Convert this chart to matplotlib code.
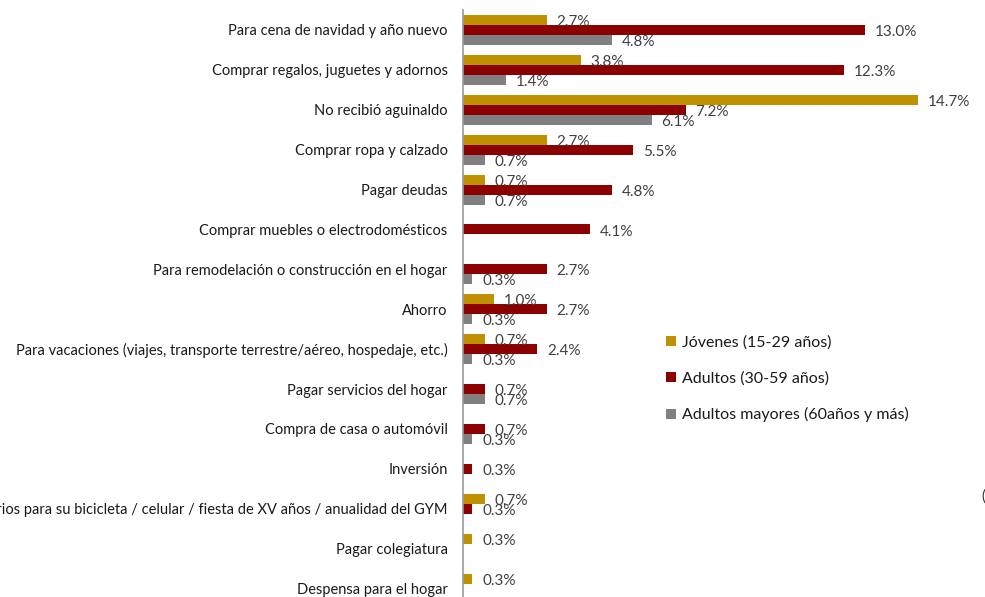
import matplotlib
matplotlib.use("Agg")
import matplotlib.pyplot as plt
import numpy as np

# ── Data (percent) ────────────────────────────────────────────────────────────
categories = [
    "Para cena de navidad y año nuevo",
    "Comprar regalos, juguetes y adornos",
    "No recibió aguinaldo",
    "Comprar ropa y calzado",
    "Pagar deudas",
    "Comprar muebles o electrodomésticos",
    "Para remodelación o construcción en el hogar",
    "Ahorro",
    "Para vacaciones (viajes, transporte terrestre/aéreo, hospedaje, etc.)",
    "Pagar servicios del hogar",
    "Compra de casa o automóvil",
    "Inversión",
    "Accesorios para su bicicleta / celular / fiesta de XV años / anualidad del GYM",
    "Pagar colegiatura",
    "Despensa para el hogar",
]
jovenes = [2.7, 3.8, 14.7, 2.7, 0.7, 0.0, 0.0, 1.0, 0.7, 0.0, 0.0, 0.0, 0.7, 0.3, 0.3]
adultos = [13.0, 12.3, 7.2, 5.5, 4.8, 4.1, 2.7, 2.7, 2.4, 0.7, 0.7, 0.3, 0.3, 0.0, 0.0]
mayores = [4.8, 1.4, 6.1, 0.7, 0.7, 0.0, 0.3, 0.3, 0.3, 0.7, 0.3, 0.0, 0.0, 0.0, 0.0]
series_names = ["Jóvenes (15-29 años)", "Adultos (30-59 años)", "Adultos mayores (60años y más)"]

colors = ["#BF9000", "#8B0000", "#808080"]
bar_h = 0.25
y = np.arange(len(categories))

plt.rcParams["font.family"] = ["Lato", "DejaVu Sans"]

fig = plt.figure(figsize=(9.85, 5.97), dpi=100)
ax = fig.add_axes([463 / 985, 0.0, 1 - 463 / 985, 587 / 597])

handles = []
for k, (vals, color, name) in enumerate(zip([jovenes, adultos, mayores], colors, series_names)):
    offs = (k - 1) * bar_h
    bars = ax.barh(y + offs, vals, height=bar_h, color=color, label=name)
    handles.append(bars)
    # value labels, skipped where there's no bar
    for b, v in zip(bars, vals):
        if v > 0:
            ax.annotate(f"{v:.1f}%", (v, b.get_y() + bar_h / 2),
                        xytext=(7, -1.5), textcoords="offset points",
                        ha="left", va="center", fontsize=11, color="#404040")

ax.set_xlim(0, (985 - 463) / 30.95)
ax.set_ylim((597 - 30) / 39.9, -0.5)
ax.set_yticks(y)
ax.set_yticklabels(categories, fontsize=10.5, color="#1a1a1a")
ax.tick_params(axis="y", length=0, pad=11)
ax.set_xticks([])
for s in ["top", "right", "bottom"]:
    ax.spines[s].set_visible(False)
ax.spines["left"].set_color("#999999")
ax.spines["left"].set_linewidth(1.2)
ax.set_facecolor("none")

ax.legend(handles=handles, loc="upper left", bbox_to_anchor=(0.362, 0.47),
          frameon=False, fontsize=11.5, handlelength=0.6, handleheight=0.6,
          handletextpad=0.4, labelspacing=1.35, labelcolor="#1a1a1a")

# partial text cut off at the right edge of the screenshot
fig.text(0.996, 1 - 497 / 597, "(", fontsize=11, color="#333333", va="center", ha="left")

plt.savefig("out.png", dpi=100)
